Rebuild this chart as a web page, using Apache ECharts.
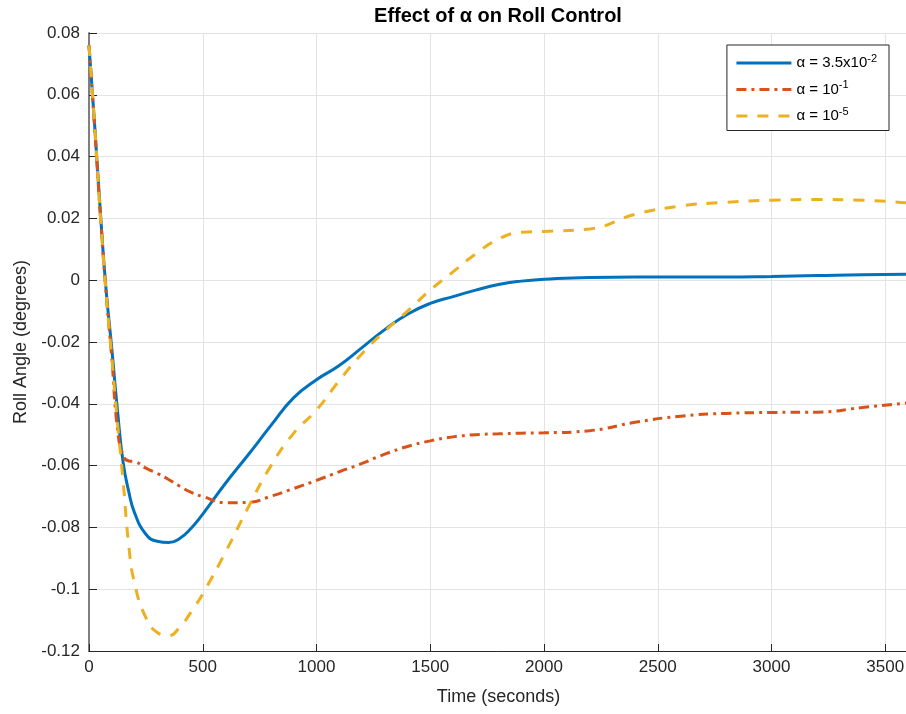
<!DOCTYPE html>
<html>
<head>
<meta charset="utf-8">
<script src="https://cdn.jsdelivr.net/npm/echarts@6/dist/echarts.min.js"></script>
<style>
  html, body { margin: 0; padding: 0; background: #ffffff; }
  #chart { width: 906px; height: 714px; }
</style>
</head>
<body>
<div id="chart"></div>
<script>
// Sample times (s)
const timeSec = [0, 25, 50, 75, 100, 125, 150, 175, 200, 250, 300, 350, 400, 450, 500,
  600, 700, 800, 900, 1000, 1100, 1200, 1300, 1400, 1500, 1600, 1700, 1800, 1900, 2000,
  2200, 2400, 2600, 2800, 3000, 3200, 3400, 3600];

// Roll angle (degrees) for each weighting
const rollAlphaMid = [0.076, 0.050, 0.022, -0.003, -0.022, -0.042, -0.059, -0.0685, -0.0752,
  -0.0822, -0.0845, -0.0849, -0.0835, -0.0802, -0.0757, -0.0657, -0.0565, -0.0470, -0.0380,
  -0.0322, -0.0276, -0.0218, -0.0160, -0.0110, -0.0075, -0.0053, -0.0032, -0.0014, -0.0003,
  0.0003, 0.0009, 0.0010, 0.0010, 0.0010, 0.0012, 0.0015, 0.0018, 0.0019];

const rollAlphaHigh = [0.076, 0.049, 0.021, -0.004, -0.025, -0.048, -0.0568, -0.0585, -0.0587,
  -0.0608, -0.0625, -0.0645, -0.0667, -0.0687, -0.0700, -0.0720, -0.0719, -0.0699, -0.0674,
  -0.0648, -0.0620, -0.0593, -0.0563, -0.0538, -0.0520, -0.0507, -0.0500, -0.0497, -0.0495,
  -0.0494, -0.0487, -0.0460, -0.0440, -0.0431, -0.0428, -0.0427, -0.0412, -0.0397];

const rollAlphaLow = [0.076, 0.050, 0.021, -0.004, -0.025, -0.046, -0.065, -0.0860, -0.0980,
  -0.1092, -0.1140, -0.1150, -0.1122, -0.1072, -0.1015, -0.0880, -0.0735, -0.0600, -0.0495,
  -0.0420, -0.0325, -0.0238, -0.0165, -0.0100, -0.0032, 0.0027, 0.0085, 0.0133, 0.0155,
  0.0158, 0.0166, 0.0213, 0.0240, 0.0252, 0.0259, 0.0261, 0.0259, 0.0250];

// Legend labels: [base text, exponent]
const seriesNames = ['alphaMid', 'alphaHigh', 'alphaLow'];
const legendBase = ['α = 3.5x10', 'α = 10', 'α = 10'];
const legendExp = ['-2', '-1', '-5'];

const xTicks = { min: 0, max: 3600, step: 500 };
const yTicks = { min: -0.12, max: 0.08, step: 0.02 };

const pairs = vals => timeSec.map((t, i) => [t, vals[i]]);

const font = '"Liberation Sans", Arial, Helvetica, sans-serif';
const chart = echarts.init(document.getElementById('chart'), null, { renderer: 'canvas' });

chart.setOption({
  backgroundColor: '#ffffff',
  animation: false,
  title: {
    text: 'Effect of α on Roll Control',
    left: 493, top: 1, textAlign: 'center',
    textStyle: { fontFamily: font, fontSize: 20, fontWeight: 'bold', color: '#000000' }
  },
  grid: { left: 89, top: 33, width: 819, bottom: 63, containLabel: false, outerBoundsMode: 'none' },
  legend: {
    orient: 'vertical',
    right: 17, top: 45,
    backgroundColor: '#ffffff',
    borderColor: '#262626', borderWidth: 1, borderRadius: 0,
    padding: [8, 12, 7, 8],
    itemWidth: 55, itemHeight: 14, itemGap: 9,
    data: seriesNames,
    itemStyle: { opacity: 0, color: 'rgba(0,0,0,0)', borderWidth: 0 },
    lineStyle: { width: 3 },
    formatter: name => {
      const i = seriesNames.indexOf(name);
      return '{b|' + legendBase[i] + '}{s|' + legendExp[i] + '}';
    },
    textStyle: {
      fontFamily: font, color: '#000000',
      rich: {
        b: { fontFamily: font, fontSize: 15, lineHeight: 20, color: '#000000' },
        s: { fontFamily: font, fontSize: 11, lineHeight: 11, verticalAlign: 'top', color: '#000000' }
      }
    }
  },
  xAxis: {
    type: 'value',
    min: xTicks.min, max: xTicks.max, interval: xTicks.step,
    name: 'Time (seconds)', nameLocation: 'middle', nameGap: 37,
    nameTextStyle: { fontFamily: font, fontSize: 18, color: '#262626' },
    axisLine: { show: true, onZero: false, lineStyle: { color: '#262626', width: 1 } },
    axisTick: { show: true, inside: true, length: 7, lineStyle: { color: '#262626' } },
    axisLabel: {
      fontFamily: font, fontSize: 17, color: '#262626', margin: 8,
      formatter: v => (v >= 3600 ? '' : String(v))
    },
    splitLine: { show: true, lineStyle: { color: '#e3e3e3', width: 1 } }
  },
  yAxis: {
    type: 'value',
    min: yTicks.min, max: yTicks.max, interval: yTicks.step,
    name: 'Roll Angle (degrees)', nameLocation: 'middle', nameGap: 59,
    nameTextStyle: { fontFamily: font, fontSize: 18, color: '#262626' },
    axisLine: { show: true, onZero: false, lineStyle: { color: '#7f7f7f', width: 2 } },
    axisTick: { show: true, inside: true, length: 8, lineStyle: { color: '#262626' } },
    axisLabel: {
      fontFamily: font, fontSize: 17, color: '#262626', margin: 9,
      formatter: v => String(+v.toFixed(2))
    },
    splitLine: { show: true, lineStyle: { color: '#e3e3e3', width: 1 } }
  },
  series: [
    {
      name: seriesNames[0], type: 'line', data: pairs(rollAlphaMid),
      showSymbol: false, symbol: 'none', smooth: 0.5, z: 3,
      lineStyle: { color: '#0072BD', width: 3, type: 'solid' },
      itemStyle: { color: '#0072BD' }
    },
    {
      name: seriesNames[1], type: 'line', data: pairs(rollAlphaHigh),
      showSymbol: false, symbol: 'none', smooth: 0.5, z: 4,
      lineStyle: { color: '#D95319', width: 3, type: [10, 5, 3, 5] },
      itemStyle: { color: '#D95319' }
    },
    {
      name: seriesNames[2], type: 'line', data: pairs(rollAlphaLow),
      showSymbol: false, symbol: 'none', smooth: 0.5, z: 5,
      lineStyle: { color: '#EDB120', width: 3, type: [11, 10] },
      itemStyle: { color: '#EDB120' }
    }
  ]
});
</script>
</body>
</html>
